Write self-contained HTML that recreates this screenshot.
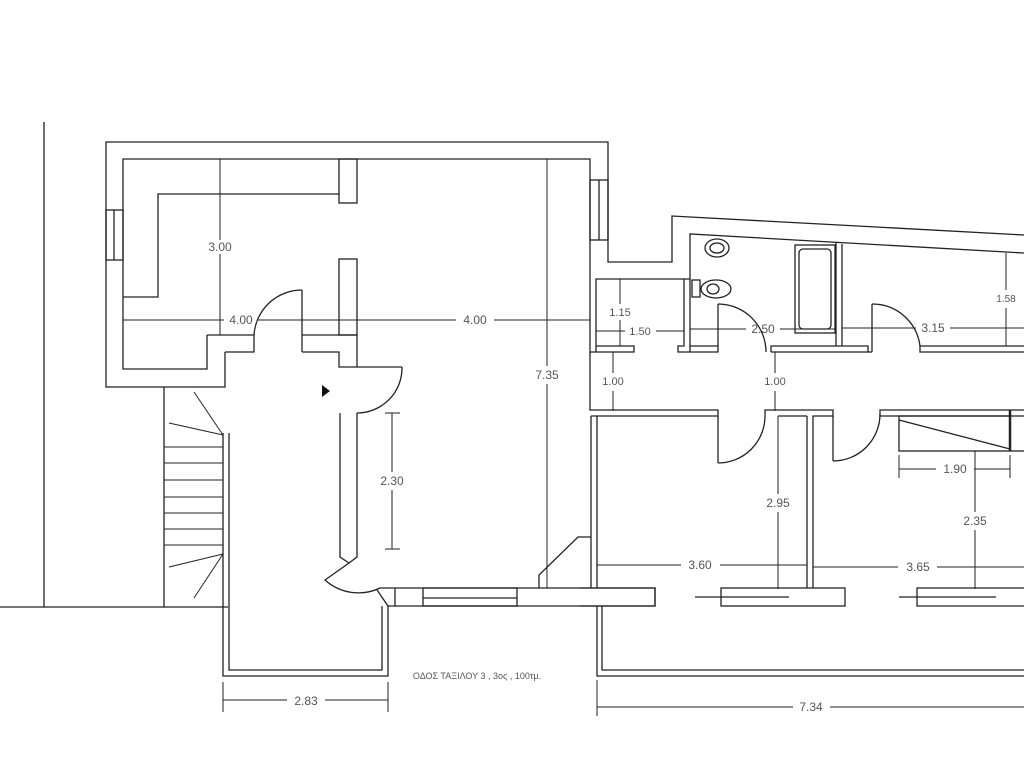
<!DOCTYPE html>
<html><head><meta charset="utf-8"><style>
html,body{margin:0;padding:0;background:#fff;width:1024px;height:768px;overflow:hidden}
svg{display:block}
text{font-family:"Liberation Sans",sans-serif;fill:#555;font-size:12px;text-anchor:middle}
</style></head><body>
<svg width="1024" height="768" viewBox="0 0 1024 768" xmlns="http://www.w3.org/2000/svg">
<g fill="none" stroke="#222" stroke-width="1.3">
<line x1="44" y1="122" x2="44" y2="607"/>
<line x1="0" y1="607" x2="228" y2="607"/>
<polyline points="225,352 225,387 106,387 106,142 608,142 608,262 672,262 672,216 1024,235"/>
<polyline points="690,352 690,234 1024,253"/>
<polyline points="207,335 207,369 123,369 123,159 590,159 590,352 634,352 634,346 596,346"/>
<polyline points="225,352 254,352 254,335 207,335"/>
<rect x="106" y="210" width="17" height="50"/><line x1="114" y1="210" x2="114" y2="260"/>
<rect x="590" y="180" width="18" height="60"/><line x1="599" y1="180" x2="599" y2="240"/>
<polyline points="123,297 158,297 158,194 339,194"/>
<rect x="339" y="159" width="18" height="44"/>
<rect x="339" y="259" width="18" height="76"/>
<line x1="302" y1="290" x2="302" y2="352"/>
<path d="M254,335 A48,48 0 0 1 302,290"/>
<polyline points="302,335 357,335 357,367 339,367 339,352 302,352"/>
<line x1="357" y1="367" x2="402" y2="367"/>
<path d="M402,367 A45,45 0 0 1 357,413"/>
<polyline points="340,413 340,557 349,563 357,557 357,413"/>
<path d="M349,563 L325,580 A50,50 0 0 0 380,588"/>
<polyline points="380,588 395,588 395,606 388,606"/>
<line x1="377" y1="590" x2="388" y2="606"/>
<polyline points="223,433 223,676 388,676 388,606"/>
<polyline points="229,433 229,670 382,670 382,606"/>
<line x1="164" y1="387" x2="164" y2="607"/>
<g stroke-width="1">
<line x1="164" y1="447" x2="223" y2="447"/><line x1="164" y1="463" x2="223" y2="463"/>
<line x1="164" y1="480" x2="223" y2="480"/><line x1="164" y1="497" x2="223" y2="497"/>
<line x1="164" y1="513" x2="223" y2="513"/><line x1="164" y1="529" x2="223" y2="529"/>
<line x1="164" y1="545" x2="223" y2="545"/>
<line x1="223" y1="435" x2="194" y2="392"/><line x1="223" y1="435" x2="169" y2="423"/>
<line x1="223" y1="554" x2="169" y2="567"/><line x1="223" y1="554" x2="194" y2="598"/>
</g>
<polyline points="395,588 655,588 655,606 395,606"/>
<rect x="423" y="588" width="94" height="18"/><line x1="423" y1="598" x2="517" y2="598"/>
<polyline points="539,588 539,575 578,537 591,537"/>
<line x1="591" y1="416" x2="591" y2="588"/>
<line x1="597" y1="416" x2="597" y2="588"/>
<polyline points="596,352 596,279 684,279 684,346 678,346 678,352 718,352 718,346 690,346"/>
<line x1="684" y1="279" x2="690" y2="279"/>
<ellipse cx="717" cy="248" rx="12" ry="9"/><ellipse cx="717" cy="248" rx="7" ry="5"/>
<rect x="692" y="280" width="8" height="17"/>
<ellipse cx="716" cy="289" rx="15" ry="9"/><ellipse cx="713" cy="289" rx="6" ry="5"/>
<rect x="795" y="245" width="40" height="88"/><rect x="799" y="249" width="32" height="80" rx="4"/>
<line x1="718" y1="304" x2="718" y2="346"/>
<path d="M718,304 A48,48 0 0 1 766,352"/>
<polyline points="771,352 771,346 868,346 868,352 771,352"/>
<line x1="836" y1="243" x2="836" y2="346"/><line x1="842" y1="244" x2="842" y2="346"/>
<line x1="872" y1="304" x2="872" y2="352"/><line x1="868" y1="352" x2="872" y2="352"/>
<path d="M872,304 A48,48 0 0 1 920,346"/>
<polyline points="1024,346 920,346 920,352 1024,352"/>
<polyline points="590,352 590,410 718,410 718,416 591,416"/>
<line x1="718" y1="416" x2="718" y2="463"/>
<path d="M718,463 A47,47 0 0 0 765,416"/>
<polyline points="765,416 765,410 833,410 833,416 813,416 813,588"/>
<line x1="807" y1="416" x2="807" y2="588"/>
<line x1="778" y1="416" x2="807" y2="416"/>
<line x1="833" y1="416" x2="833" y2="461"/>
<path d="M833,461 A47,47 0 0 0 880,414"/>
<polyline points="1024,410 880,410 880,416 1024,416"/>
<rect x="899" y="416" width="111" height="35"/>
<line x1="899" y1="420" x2="1010" y2="449"/>
<line x1="1010" y1="410" x2="1010" y2="451" stroke-width="2.5"/>
<line x1="1010" y1="451" x2="1024" y2="451"/>
<polyline points="580,588 655,588 655,606 580,606"/>
<rect x="721" y="588" width="124" height="18"/><line x1="695" y1="597" x2="789" y2="597"/>
<polyline points="1024,588 917,588 917,606 1024,606"/><line x1="899" y1="597" x2="996" y2="597"/>
<polyline points="597,606 597,676 1024,676"/>
<polyline points="602,606 602,670 1024,670"/>
</g>
<polygon points="322,385 322,397 330,391" fill="#111"/>
<g stroke="#222" stroke-width="1">
<line x1="220" y1="159" x2="220" y2="240"/><line x1="220" y1="254" x2="220" y2="335"/>
<line x1="123" y1="320" x2="224" y2="320"/><line x1="258" y1="320" x2="456" y2="320"/><line x1="494" y1="320" x2="590" y2="320"/>
<line x1="547" y1="159" x2="547" y2="366"/><line x1="547" y1="384" x2="547" y2="588"/>
<line x1="392" y1="413" x2="392" y2="472"/><line x1="392" y1="490" x2="392" y2="549"/>
<line x1="385" y1="413" x2="400" y2="413"/><line x1="385" y1="549" x2="400" y2="549"/>
<line x1="223" y1="682" x2="223" y2="712"/><line x1="388" y1="682" x2="388" y2="712"/>
<line x1="223" y1="700" x2="287" y2="700"/><line x1="325" y1="700" x2="388" y2="700"/>
<line x1="597" y1="680" x2="597" y2="716"/>
<line x1="597" y1="707" x2="793" y2="707"/><line x1="830" y1="707" x2="1024" y2="707"/>
<line x1="620" y1="279" x2="620" y2="304"/><line x1="620" y1="320" x2="620" y2="346"/>
<line x1="596" y1="331" x2="625" y2="331"/><line x1="656" y1="331" x2="684" y2="331"/>
<line x1="690" y1="329" x2="746" y2="329"/><line x1="780" y1="329" x2="835" y2="329"/>
<line x1="842" y1="328" x2="916" y2="328"/><line x1="950" y1="328" x2="1024" y2="328"/>
<line x1="1006" y1="253" x2="1006" y2="290"/><line x1="1006" y1="308" x2="1006" y2="346"/>
<line x1="613" y1="352" x2="613" y2="373"/><line x1="613" y1="391" x2="613" y2="411"/>
<line x1="775" y1="352" x2="775" y2="373"/><line x1="775" y1="391" x2="775" y2="411"/>
<line x1="778" y1="416" x2="778" y2="494"/><line x1="778" y1="512" x2="778" y2="589"/>
<line x1="975" y1="451" x2="975" y2="512"/><line x1="975" y1="530" x2="975" y2="589"/>
<line x1="597" y1="565" x2="681" y2="565"/><line x1="720" y1="565" x2="807" y2="565"/>
<line x1="813" y1="567" x2="898" y2="567"/><line x1="937" y1="567" x2="1024" y2="567"/>
<line x1="899" y1="469" x2="936" y2="469"/><line x1="974" y1="469" x2="1010" y2="469"/>
<line x1="899" y1="455" x2="899" y2="478"/><line x1="1010" y1="455" x2="1010" y2="478"/>
</g>
<text x="220" y="251">3.00</text>
<text x="241" y="324">4.00</text>
<text x="475" y="324">4.00</text>
<text x="547" y="379">7.35</text>
<text x="392" y="485">2.30</text>
<text x="306" y="705">2.83</text>
<text x="811" y="711">7.34</text>
<text x="620" y="316" style="font-size:11px">1.15</text>
<text x="640" y="335" style="font-size:11px">1.50</text>
<text x="763" y="333">2.50</text>
<text x="933" y="332">3.15</text>
<text x="1006" y="302" style="font-size:10px">1.58</text>
<text x="613" y="385" style="font-size:11px">1.00</text>
<text x="775" y="385" style="font-size:11px">1.00</text>
<text x="778" y="507">2.95</text>
<text x="975" y="525">2.35</text>
<text x="700" y="569">3.60</text>
<text x="918" y="571">3.65</text>
<text x="955" y="473">1.90</text>
<text x="477" y="679" style="font-size:9px">ΟΔΟΣ ΤΑΞΙΛΟΥ 3 , 3ος , 100τμ.</text>
</svg>
</body></html>
